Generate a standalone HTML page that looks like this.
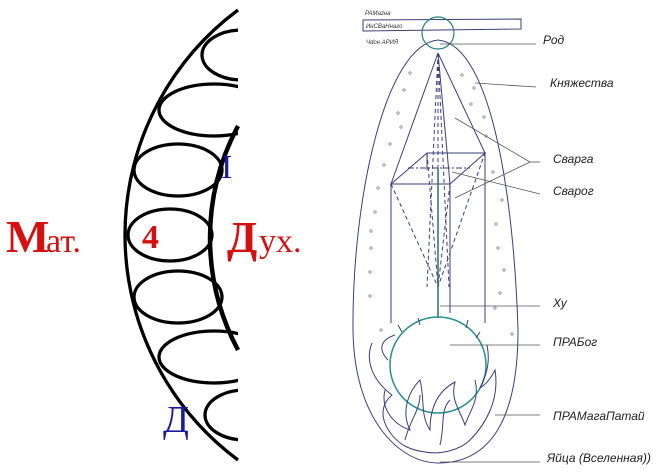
<!DOCTYPE html>
<html><head><meta charset="utf-8"><style>
html,body{margin:0;padding:0;background:#fff;width:665px;height:473px;overflow:hidden;}
svg{display:block;}
.lbl{font-family:"Liberation Sans",sans-serif;font-style:italic;font-size:12px;fill:#222;}
</style></head><body>
<svg width="665" height="473" viewBox="0 0 665 473" xmlns="http://www.w3.org/2000/svg">
<defs><clipPath id="c"><rect x="0" y="0" width="238" height="473"/></clipPath></defs>
<g fill="none" stroke="#000" stroke-width="3.3">
 <path d="M238,10 A280.5,280.5 0 0 0 238,460"/>
 <path d="M238,126 A238,238 0 0 0 238,350" stroke-width="4.5"/>
</g>
<g clip-path="url(#c)" fill="none" stroke="#000" stroke-width="3.3">
 <ellipse cx="242" cy="55" rx="40" ry="25"/>
 <ellipse cx="214" cy="110" rx="55" ry="26"/>
 <ellipse cx="178" cy="170" rx="44" ry="26"/>
 <ellipse cx="170" cy="235" rx="42" ry="26"/>
 <ellipse cx="178" cy="297" rx="44" ry="26"/>
 <ellipse cx="214" cy="357" rx="55" ry="26"/>
 <ellipse cx="245" cy="415" rx="40" ry="25"/>
</g>
<g font-family="Liberation Serif,serif" fill="#d51010">
 <text x="6" y="252" font-size="46" font-weight="bold">М</text>
 <text x="46" y="252" font-size="34">ат.</text>
 <text x="142" y="248" font-size="34" font-weight="bold">4</text>
 <text x="227" y="252" font-size="44" font-weight="bold">Д</text>
 <text x="259" y="252" font-size="34">ух.</text>
</g>
<text x="221" y="178" font-family="Liberation Serif,serif" font-size="34" fill="#1a1aa0">I</text>
<text x="163" y="432" font-family="Liberation Serif,serif" font-size="38" fill="#1a1aa0">Д</text>

<g fill="none" stroke="#3a3f7a" stroke-width="1">
 <path d="M363,20 L521,19 L521,29 L363,31 Z"/>
 <path d="M438,40 C385,45 352,200 353,330 C354,420 400,463 438,463 C490,463 518,420 518,330 C514,200 492,45 438,40 Z"/>
 <path d="M438,53 L391,184 M438,53 L485,153 M438,53 L450,184"/>
 <path d="M427,153 L485,153 L450,184 L391,184 Z"/>
 <path d="M391,184 L391,323 M485,153 L485,323 M450,184 L450,313"/>
 <path d="M427,153 L427,170"/>
 <path d="M438,53 L438,287" stroke-dasharray="4,3"/>
 <path d="M438,53 L427,287 M438,53 L449,287" stroke-dasharray="4,3"/>
 <path d="M391,184 L438,287 L485,153 M450,184 L438,287 M427,153 L438,287" stroke-dasharray="4,3"/>
 <path d="M408,168 L470,168" stroke-dasharray="6,2,2,2"/>
 <path d="M438,168 L438,318" stroke="#2a7070" stroke-width="1.5"/>
</g>
<circle cx="438" cy="33" r="16" fill="none" stroke="#2a8080" stroke-width="1.2"/>
<circle cx="438" cy="365" r="48" fill="none" stroke="#2a9090" stroke-width="1.5"/>
<g fill="none" stroke="#3a3f7a" stroke-width="1">
 <path d="M395,335 C380,340 378,350 388,360 M398,325 L402,332 M418,318 L420,325 M468,320 L466,328 M480,332 L476,338"/>
 <path d="M372,343 C365,360 372,380 392,395 C380,405 380,420 392,435 C400,445 410,450 425,452 C440,455 460,450 470,440 C485,425 500,400 495,370 C490,380 485,385 480,388 C488,372 490,360 487,345"/>
 <path d="M385,390 C380,410 395,425 410,430 C400,410 410,390 420,380 C425,400 420,415 430,430 C430,405 440,390 455,382 C450,400 460,410 465,425 C470,410 480,400 475,380"/>
 <path d="M405,440 C410,420 420,410 420,395 M440,445 C445,425 440,410 450,400"/>
</g>
<g stroke="#555" stroke-width="0.8">
 <line x1="440" y1="44" x2="536" y2="44"/>
 <line x1="475" y1="83" x2="536" y2="87"/>
 <line x1="455" y1="118" x2="530" y2="162"/>
 <line x1="455" y1="198" x2="530" y2="162"/>
 <line x1="530" y1="162" x2="540" y2="162"/>
 <line x1="452" y1="172" x2="540" y2="194"/>
 <line x1="440" y1="306" x2="540" y2="306"/>
 <line x1="450" y1="345" x2="540" y2="345"/>
 <line x1="495" y1="415" x2="540" y2="415"/>
 <line x1="440" y1="462" x2="540" y2="462"/>
</g>
<g fill="none" stroke="#777" stroke-width="0.7">
 <circle cx="410" cy="73" r="1.2"/><circle cx="404" cy="90" r="1.2"/><circle cx="398" cy="113" r="1.2"/>
 <circle cx="401" cy="127" r="1.2"/><circle cx="390" cy="144" r="1.2"/><circle cx="384" cy="165" r="1.2"/>
 <circle cx="378" cy="188" r="1.2"/><circle cx="375" cy="212" r="1.2"/><circle cx="371" cy="231" r="1.2"/>
 <circle cx="371" cy="248" r="1.2"/><circle cx="370" cy="272" r="1.2"/><circle cx="370" cy="296" r="1.2"/>
 <circle cx="381" cy="330" r="1.2"/>
 <circle cx="462" cy="75" r="1.2"/><circle cx="474" cy="88" r="1.2"/><circle cx="471" cy="104" r="1.2"/>
 <circle cx="484" cy="117" r="1.2"/><circle cx="486" cy="136" r="1.2"/><circle cx="493" cy="172" r="1.2"/>
 <circle cx="502" cy="200" r="1.2"/><circle cx="496" cy="224" r="1.2"/><circle cx="498" cy="248" r="1.2"/>
 <circle cx="504" cy="270" r="1.2"/><circle cx="500" cy="293" r="1.2"/><circle cx="495" cy="308" r="1.2"/>
 <circle cx="512" cy="334" r="1.2"/>
</g>
<g font-family="Liberation Sans,sans-serif" font-style="italic" font-size="6" fill="#333">
 <text x="365" y="15">РАМаzна</text>
 <text x="366" y="28">ИнСВаНнаго</text>
 <text x="366" y="44">Чdон АРИЯ</text>
</g>
<text class="lbl" x="543" y="44">Род</text>
<text class="lbl" x="550" y="87">Княжества</text>
<text class="lbl" x="553" y="163">Сварга</text>
<text class="lbl" x="553" y="195">Сварог</text>
<text class="lbl" x="553" y="307">Ху</text>
<text class="lbl" x="553" y="346">ПРАБог</text>
<text class="lbl" x="553" y="420">ПРАМагаПатай</text>
<text class="lbl" x="547" y="462">Яйца (Вселенная))</text>
</svg>
</body></html>
